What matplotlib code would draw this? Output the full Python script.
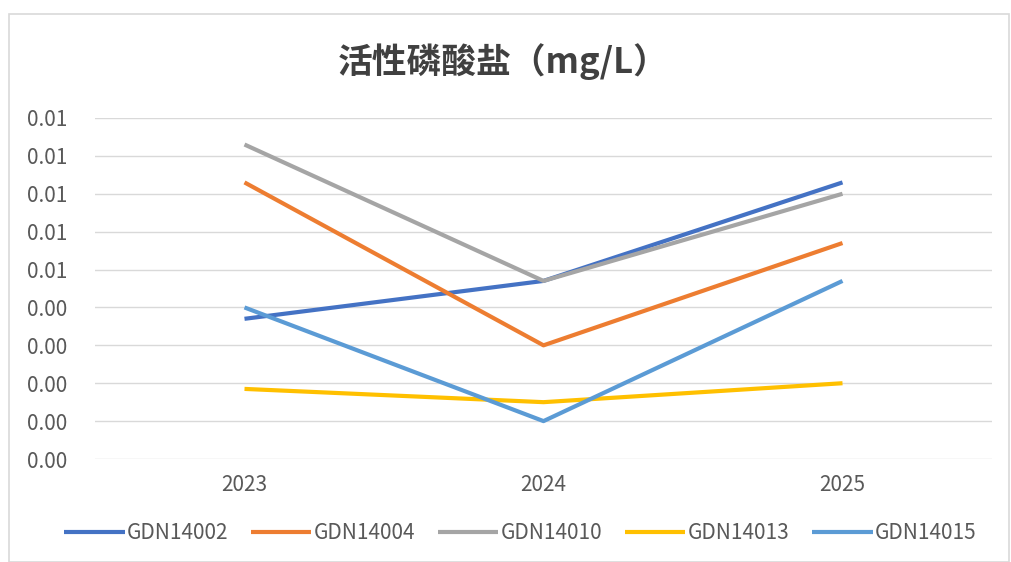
import matplotlib
matplotlib.use("Agg")
import matplotlib.pyplot as plt
from matplotlib.patches import Rectangle
from matplotlib.ticker import FuncFormatter, MultipleLocator

plt.rcParams['font.family'] = ['Noto Sans CJK SC', 'DejaVu Sans']

years = ["2023", "2024", "2025"]
series_names = ["GDN14002", "GDN14004", "GDN14010", "GDN14013", "GDN14015"]
gdn14002 = [0.0037, 0.0047, 0.0073]
gdn14004 = [0.0073, 0.0030, 0.0057]
gdn14010 = [0.0083, 0.0047, 0.0070]
gdn14013 = [0.00185, 0.0015, 0.0020]
gdn14015 = [0.0040, 0.0010, 0.0047]
colors = ["#4472C4", "#ED7D31", "#A5A5A5", "#FFC000", "#5B9BD5"]

fig = plt.figure(figsize=(10.11, 5.62), dpi=100)
fig.patches.append(Rectangle((9/1011, 0), 1 - 9/1011 - 0.002, 1 - 14/562,
                             transform=fig.transFigure, fill=False,
                             edgecolor="#D9D9D9", linewidth=1.2))
ax = fig.add_axes([95/1011, 1 - 459/562, 897/1011, (459 - 118)/562])

x = list(range(len(years)))
for name, vals, c in zip(series_names, [gdn14002, gdn14004, gdn14010, gdn14013, gdn14015], colors):
    ax.plot(x, vals, color=c, linewidth=3, label=name, solid_capstyle='butt')

ax.set_xlim(-0.5, 2.5)
ax.set_ylim(0, 0.009)
ax.yaxis.set_major_locator(MultipleLocator(0.001))
ax.yaxis.set_major_formatter(FuncFormatter(lambda v, p: f"{v + 1e-12:.2f}"))
ax.set_xticks(x)
ax.set_xticklabels(years)
ax.grid(axis='y', color="#D9D9D9", linewidth=1)
ax.set_axisbelow(True)
for s in ax.spines.values():
    s.set_visible(False)
ax.tick_params(axis='both', length=0, labelsize=15, colors="#595959")
ax.tick_params(axis='y', pad=20)
ax.tick_params(axis='x', pad=11)

fig.text(503/1011, 1 - 62/562, "活性磷酸盐（mg/L）", ha='center', va='center',
         fontsize=25, fontweight='bold', color="#404040")

leg = ax.legend(loc='center', bbox_to_anchor=(0.474, (459 - 533) / (459 - 118)),
                ncol=5, frameon=False, fontsize=15, handlelength=2.9,
                handletextpad=0.1, columnspacing=1.1)
for t in leg.get_texts():
    t.set_color("#595959")

fig.savefig("out.png", dpi=100)
